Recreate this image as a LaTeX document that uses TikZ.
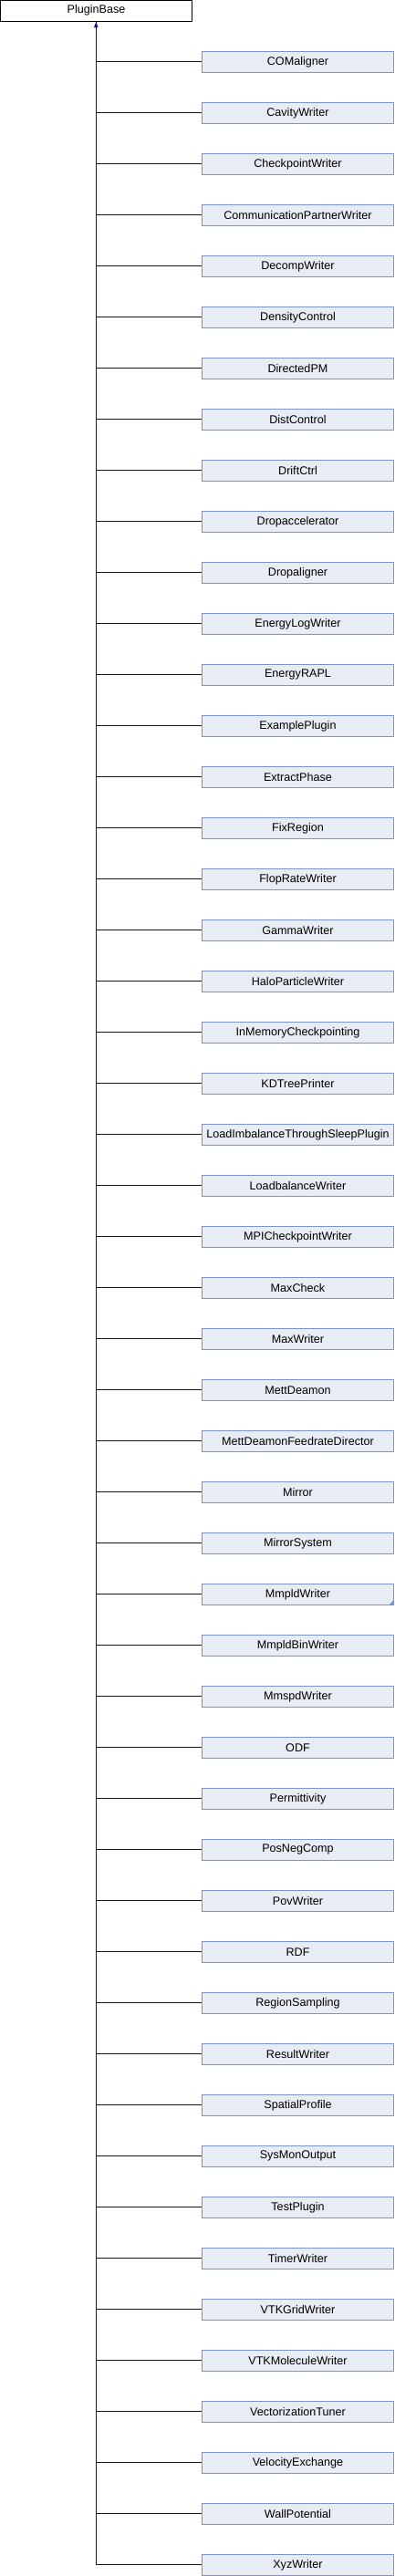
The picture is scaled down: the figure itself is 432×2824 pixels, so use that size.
\documentclass[tikz,border=0pt]{standalone}
\usepackage{fontspec}
\setmainfont{Liberation Sans}
\begin{document}
\begin{tikzpicture}[x=1pt,y=-1pt,
  basebox/.style={draw=black,fill=white,line width=1pt,minimum width=210pt,minimum height=23pt,inner sep=0pt,font=\fontsize{12.6}{14}\selectfont},
  childbox/.style={draw=boxborder,fill=boxfill,line width=1pt,minimum width=210pt,minimum height=23pt,inner sep=0pt,font=\fontsize{12.6}{14}\selectfont},
  link/.style={draw=linkblue,line width=1.2pt}]
\definecolor{boxfill}{RGB}{232,236,245}
\definecolor{boxborder}{RGB}{124,148,202}
\definecolor{linkblue}{RGB}{10,10,150}
\useasboundingbox (0,0) rectangle (432,2824);
\node[basebox] (base) at (105.5,11.5) {PluginBase};
\coordinate (tip) at (105.3,24);
\coordinate (bot) at (105.3,2812);
\foreach \name [count=\i from 0] in {COMaligner,CavityWriter,CheckpointWriter,CommunicationPartnerWriter,DecompWriter,DensityControl,DirectedPM,DistControl,DriftCtrl,Dropaccelerator,Dropaligner,EnergyLogWriter,EnergyRAPL,ExamplePlugin,ExtractPhase,FixRegion,FlopRateWriter,GammaWriter,HaloParticleWriter,InMemoryCheckpointing,KDTreePrinter,LoadImbalanceThroughSleepPlugin,LoadbalanceWriter,MPICheckpointWriter,MaxCheck,MaxWriter,MettDeamon,MettDeamonFeedrateDirector,Mirror,MirrorSystem,MmpldWriter,MmpldBinWriter,MmspdWriter,ODF,Permittivity,PosNegComp,PovWriter,RDF,RegionSampling,ResultWriter,SpatialProfile,SysMonOutput,TestPlugin,TimerWriter,VTKGridWriter,VTKMoleculeWriter,VectorizationTuner,VelocityExchange,WallPotential,XyzWriter}
{
  \node[childbox] (c\i) at (326.5,67.8+56*\i) {\name};
  \draw[link] (c\i.west) -- (105.3,67.8+56*\i);
}
\draw[link] (tip) -- (bot);
\fill[linkblue] (tip) -- (107.5,30) -- (103.1,30) -- cycle;
\fill[boxborder] (c30.south east) -- ++(0,-6) -- ++(-6,6) -- cycle;
\end{tikzpicture}
\end{document}
